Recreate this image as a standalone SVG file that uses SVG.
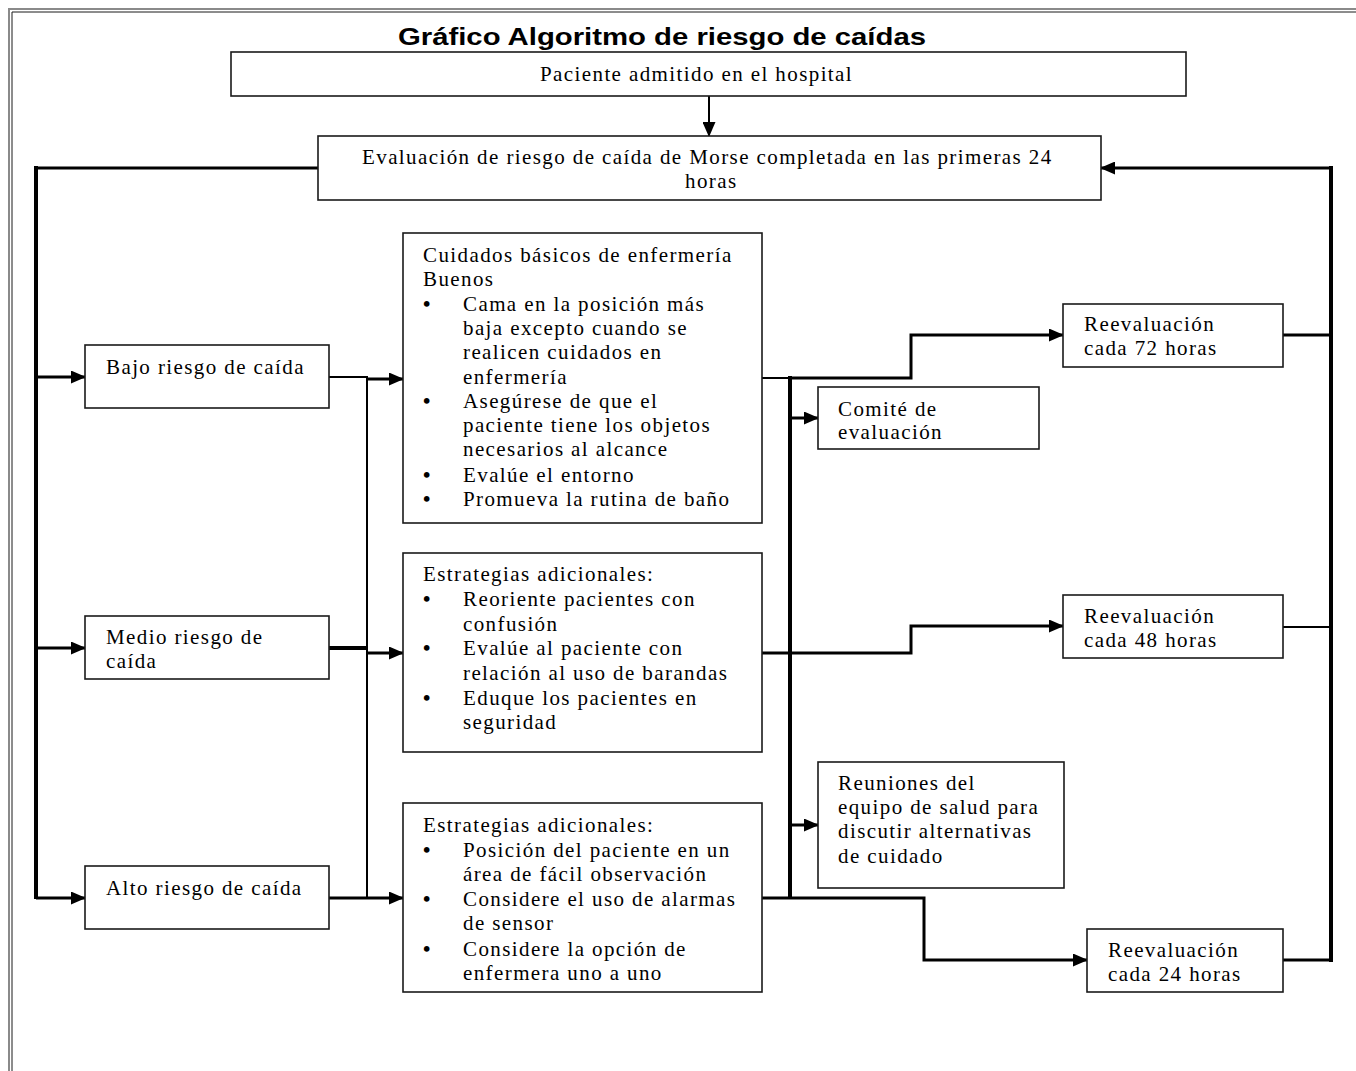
<svg xmlns="http://www.w3.org/2000/svg" width="1356" height="1071" viewBox="0 0 1356 1071">
<defs>
<style>
.bg{fill:#fff}
.frame-o{fill:none;stroke:#8a8a8a;stroke-width:2}
.frame-i{fill:none;stroke:#1a1a1a;stroke-width:1}
.box{fill:#fff;stroke:#1a1a1a;stroke-width:1.6}
.t{font-family:"Liberation Serif","Times New Roman",serif;font-size:21px;letter-spacing:1.4px;fill:#000}
.b{font-family:"Liberation Serif","Times New Roman",serif;font-size:21px;font-weight:bold;fill:#000}
.title{font-family:"Liberation Sans",Arial,sans-serif;font-size:24px;font-weight:bold;fill:#000}
.c{fill:none;stroke:#000;stroke-linejoin:miter;stroke-linecap:butt}
.w2{stroke-width:2}
.w3{stroke-width:3}
.w4{stroke-width:4}
.arr{marker-end:url(#ah)}
</style>
<marker id="ah" markerUnits="userSpaceOnUse" markerWidth="15" markerHeight="13" refX="14" refY="6.5" orient="auto">
<path d="M0,0 L15,6.5 L0,13 z" fill="#000"/>
</marker>
</defs>
<rect class="bg" x="0" y="0" width="1356" height="1071"/>
<path class="frame-o" d="M9,1071 V9 H1356"/>
<path class="frame-i" d="M12,1071 V12 H1356"/>
<text class="title" x="398" y="45" textLength="528" lengthAdjust="spacingAndGlyphs">Gráfico Algoritmo de riesgo de caídas</text>

<g id="connectors">
<path class="c w2 arr" d="M709,96 V136"/>
<path class="c w3" d="M318,168 H36"/>
<path class="c w4" d="M36,166 V899"/>
<path class="c w3 arr" d="M36,377 H85"/>
<path class="c w3 arr" d="M36,648 H85"/>
<path class="c w3 arr" d="M36,898 H85"/>
<path class="c w2" d="M329,377 H367"/>
<path class="c w2" d="M367,376 V899"/>
<path class="c w4" d="M329,648 H367"/>
<path class="c w3" d="M329,898 H367"/>
<path class="c w3 arr" d="M367,379 H403"/>
<path class="c w3 arr" d="M367,653 H403"/>
<path class="c w3 arr" d="M367,898 H403"/>
<path class="c w2" d="M762,378 H790"/>
<path class="c w3 arr" d="M790,378 H911 V335 H1063"/>
<path class="c w4" d="M790,376 V899"/>
<path class="c w3 arr" d="M790,418 H818"/>
<path class="c w3 arr" d="M762,653 H911 V626 H1063"/>
<path class="c w3 arr" d="M790,825 H818"/>
<path class="c w3 arr" d="M762,898 H924 V960 H1087"/>
<path class="c w3" d="M1283,335 H1331"/>
<path class="c w2" d="M1283,627 H1331"/>
<path class="c w3" d="M1283,960 H1331"/>
<path class="c w4" d="M1331,962 V166"/>
<path class="c w3 arr" d="M1331,168 H1101"/>
</g>

<g id="n-paciente">
<rect class="box" x="231" y="52" width="955" height="44"/>
<text class="t" x="540" y="81">Paciente admitido en el hospital</text>
</g>
<g id="n-evaluacion">
<rect class="box" x="318" y="136" width="783" height="64"/>
<text class="t" x="362" y="164">Evaluación de riesgo de caída de Morse completada en las primeras 24</text>
<text class="t" x="685" y="188">horas</text>
</g>
<g id="n-bajo">
<rect class="box" x="85" y="345" width="244" height="63"/>
<text class="t" x="106" y="374">Bajo riesgo de caída</text>
</g>
<g id="n-medio">
<rect class="box" x="85" y="616" width="244" height="63"/>
<text class="t" x="106" y="644">Medio riesgo de</text>
<text class="t" x="106" y="668">caída</text>
</g>
<g id="n-alto">
<rect class="box" x="85" y="866" width="244" height="63"/>
<text class="t" x="106" y="895">Alto riesgo de caída</text>
</g>
<g id="n-cuidados">
<rect class="box" x="403" y="233" width="359" height="290"/>
<text class="t" x="423" y="262">Cuidados básicos de enfermería</text>
<text class="t" x="423" y="286">Buenos</text>
<text class="b" x="423" y="310.5">•</text>
<text class="t" x="463" y="310.5">Cama en la posición más</text>
<text class="t" x="463" y="335">baja excepto cuando se</text>
<text class="t" x="463" y="359">realicen cuidados en</text>
<text class="t" x="463" y="383.5">enfermería</text>
<text class="b" x="423" y="408">•</text>
<text class="t" x="463" y="408">Asegúrese de que el</text>
<text class="t" x="463" y="432">paciente tiene los objetos</text>
<text class="t" x="463" y="456">necesarios al alcance</text>
<text class="b" x="423" y="481.5">•</text>
<text class="t" x="463" y="481.5">Evalúe el entorno</text>
<text class="b" x="423" y="506">•</text>
<text class="t" x="463" y="506">Promueva la rutina de baño</text>
</g>
<g id="n-estrategias-medio">
<rect class="box" x="403" y="553" width="359" height="199"/>
<text class="t" x="423" y="581">Estrategias adicionales:</text>
<text class="b" x="423" y="606">•</text>
<text class="t" x="463" y="606">Reoriente pacientes con</text>
<text class="t" x="463" y="630.5">confusión</text>
<text class="b" x="423" y="655">•</text>
<text class="t" x="463" y="655">Evalúe al paciente con</text>
<text class="t" x="463" y="680">relación al uso de barandas</text>
<text class="b" x="423" y="704.5">•</text>
<text class="t" x="463" y="704.5">Eduque los pacientes en</text>
<text class="t" x="463" y="729">seguridad</text>
</g>
<g id="n-estrategias-alto">
<rect class="box" x="403" y="803" width="359" height="189"/>
<text class="t" x="423" y="832">Estrategias adicionales:</text>
<text class="b" x="423" y="856.5">•</text>
<text class="t" x="463" y="856.5">Posición del paciente en un</text>
<text class="t" x="463" y="881">área de fácil observación</text>
<text class="b" x="423" y="906">•</text>
<text class="t" x="463" y="906">Considere el uso de alarmas</text>
<text class="t" x="463" y="930">de sensor</text>
<text class="b" x="423" y="956">•</text>
<text class="t" x="463" y="956">Considere la opción de</text>
<text class="t" x="463" y="980">enfermera uno a uno</text>
</g>
<g id="n-comite">
<rect class="box" x="818" y="387" width="221" height="62"/>
<text class="t" x="838" y="416">Comité de</text>
<text class="t" x="838" y="439">evaluación</text>
</g>
<g id="n-reuniones">
<rect class="box" x="818" y="762" width="246" height="126"/>
<text class="t" x="838" y="790">Reuniones del</text>
<text class="t" x="838" y="814">equipo de salud para</text>
<text class="t" x="838" y="838">discutir alternativas</text>
<text class="t" x="838" y="862.5">de cuidado</text>
</g>
<g id="n-reeval-72">
<rect class="box" x="1063" y="304" width="220" height="63"/>
<text class="t" x="1084" y="331">Reevaluación</text>
<text class="t" x="1084" y="355">cada 72 horas</text>
</g>
<g id="n-reeval-48">
<rect class="box" x="1063" y="595" width="220" height="63"/>
<text class="t" x="1084" y="623">Reevaluación</text>
<text class="t" x="1084" y="647">cada 48 horas</text>
</g>
<g id="n-reeval-24">
<rect class="box" x="1087" y="929" width="196" height="63"/>
<text class="t" x="1108" y="957">Reevaluación</text>
<text class="t" x="1108" y="981">cada 24 horas</text>
</g>
</svg>
